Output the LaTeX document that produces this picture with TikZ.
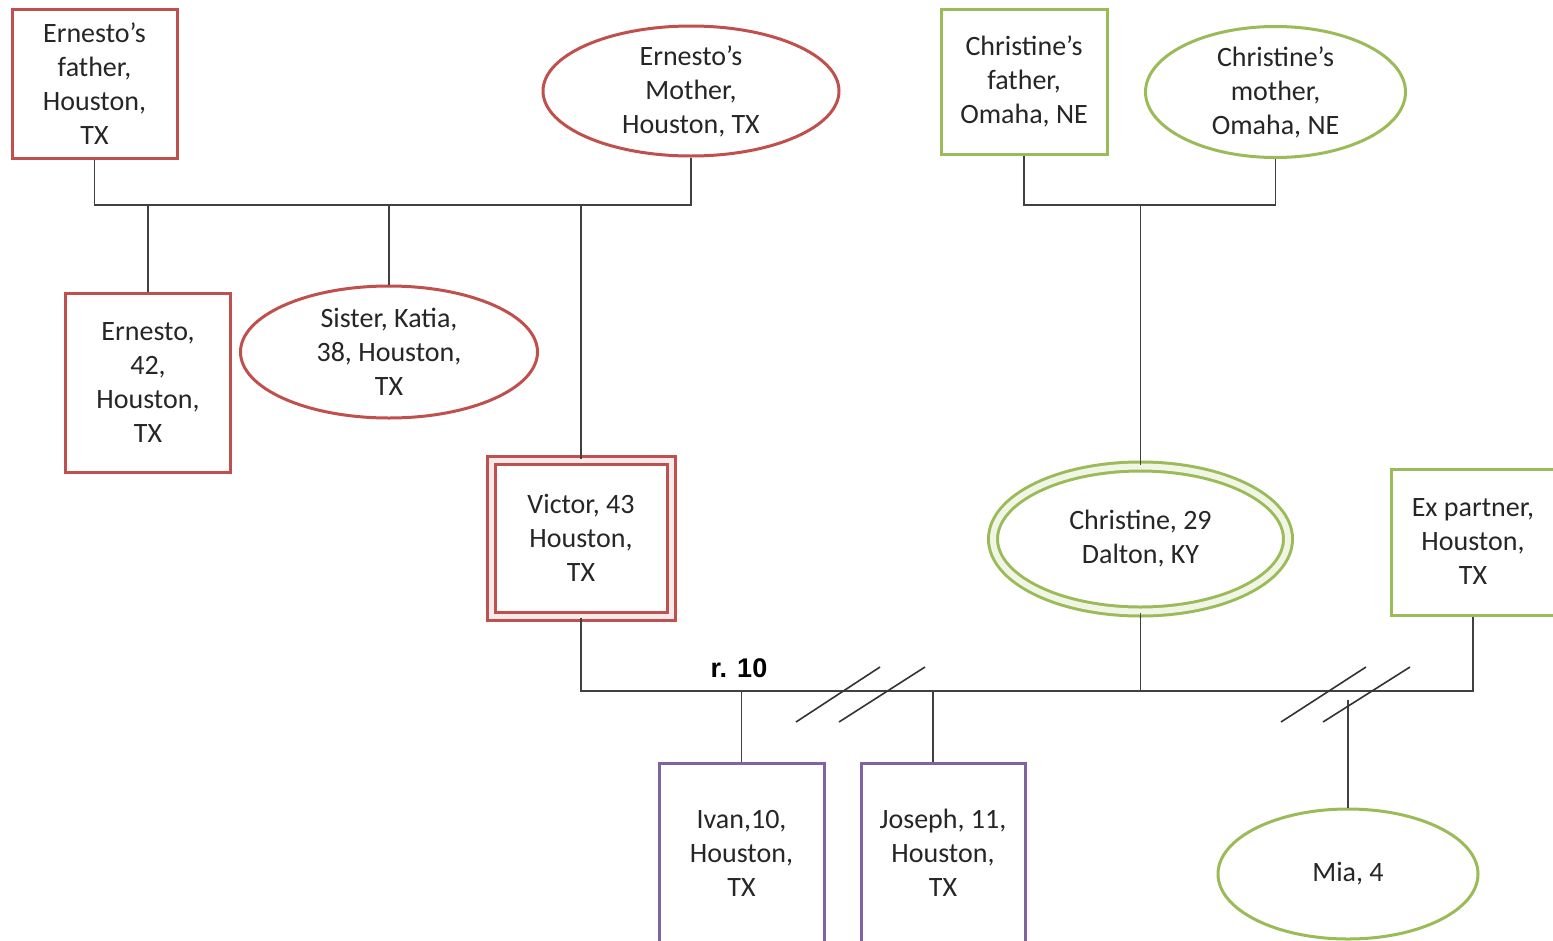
\documentclass[tikz,border=0pt]{standalone}
\usepackage{fontspec}
\setmainfont{Carlito}
\newfontfamily\labelfont{Liberation Sans}
\usetikzlibrary{shapes.geometric}
\begin{document}
\begin{tikzpicture}[x=1pt,y=-1pt,
  every node/.style={font=\fontsize{28}{34}\selectfont, text=black!85, align=center, inner sep=0pt, fill=white},
  person/.style={line width=3pt},
  male/.style={person, rectangle},
  female/.style={person, ellipse},
  link/.style={draw=black!75, line width=1.5pt},
  cut/.style={draw=black!80, line width=1.6pt}
]
\definecolor{fred}{RGB}{192,80,77}
\definecolor{fgreen}{RGB}{155,187,89}
\definecolor{fpurple}{RGB}{128,100,162}
\useasboundingbox (0,0) rectangle (1553,940);

% Ernesto's parents and siblings
\node[male, draw=fred, minimum width=165, minimum height=149] (efa) at (94.5,83.5) {Ernesto’s\\father,\\Houston,\\TX};
\node[female, draw=fred, minimum width=296, minimum height=130] (emo) at (691,91) {Ernesto’s\\Mother,\\Houston, TX};
\node[male, draw=fred, minimum width=165, minimum height=179] (ern) at (148,383) {Ernesto,\\42,\\Houston,\\TX};
\node[female, draw=fred, minimum width=297, minimum height=132] (kat) at (389,352) {Sister, Katia,\\38, Houston,\\TX};
\node[male, draw=fred, double=fred!12, double distance=5pt, minimum width=180, minimum height=156] (vic) at (581,538) {Victor, 43\\Houston,\\TX};

% Christine's parents
\node[male, draw=fgreen, minimum width=166, minimum height=145] (cfa) at (1024,81.5) {Christine’s\\father,\\Omaha, NE};
\node[female, draw=fgreen, minimum width=260, minimum height=131] (cmo) at (1275.5,92) {Christine’s\\mother,\\Omaha, NE};
\node[female, draw=fgreen, double=fgreen!15, double distance=6pt, minimum width=295, minimum height=145] (chr) at (1140.5,539) {Christine, 29\\Dalton, KY};
\node[male, draw=fgreen, minimum width=164, minimum height=146] (exp) at (1473,542) {Ex partner,\\Houston,\\TX};

% Children
\node[male, draw=fpurple, minimum width=165, minimum height=180] (iva) at (741.5,853) {Ivan,10,\\Houston,\\TX};
\node[male, draw=fpurple, minimum width=164, minimum height=180] (jos) at (943,853) {Joseph, 11,\\Houston,\\TX};
\node[female, draw=fgreen, minimum width=260, minimum height=130] (mia) at (1348,874) {Mia, 4};

% Family lines
\coordinate (topbar) at (0,205);
\coordinate (lowbar) at (0,691);
\draw[link] (efa.south) -- (efa.south |- topbar) -- (emo.south |- topbar) -- (emo.south);
\draw[link] (ern.north) -- (ern.north |- topbar);
\draw[link] (kat.north) -- (kat.north |- topbar);
\draw[link] (vic.north) -- (vic.north |- topbar);
\draw[link] (cfa.south) -- (cfa.south |- topbar) -- (cmo.south |- topbar) -- (cmo.south);
\draw[link] (chr.north) -- (chr.north |- topbar);

\draw[link] (vic.south) -- (vic.south |- lowbar) -- (exp.south |- lowbar) -- (exp.south);
\draw[link] (chr.south) -- (chr.south |- lowbar);
\draw[link] (iva.north) -- (iva.north |- lowbar);
\coordinate (jdrop) at (933,691);
\draw[link] (jdrop) -- (jdrop |- jos.north);
\coordinate (mdrop) at (1348,700);
\draw[link] (mdrop) -- (mia.north);

% Separation marks
\coordinate (s1a) at (796,722); \coordinate (s1b) at (880,667);
\coordinate (s2a) at (839,722); \coordinate (s2b) at (925,667);
\coordinate (s3a) at (1281,722); \coordinate (s3b) at (1366,667);
\coordinate (s4a) at (1323,722); \coordinate (s4b) at (1410,667);
\draw[cut] (s1a) -- (s1b);
\draw[cut] (s2a) -- (s2b);
\draw[cut] (s3a) -- (s3b);
\draw[cut] (s4a) -- (s4b);

% Relationship label
\node[fill=none, text=black, font=\labelfont\bfseries\fontsize{27}{30}\selectfont] (rel) at (739,668) {r. 10};
\end{tikzpicture}
\end{document}
